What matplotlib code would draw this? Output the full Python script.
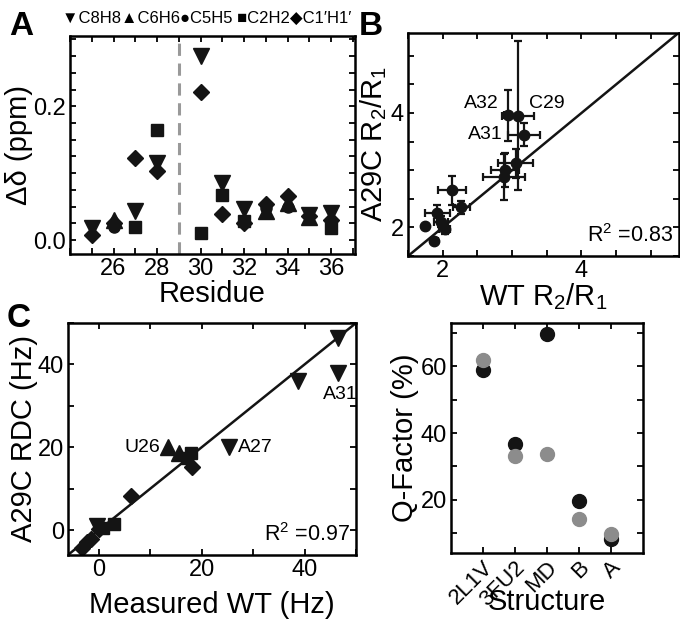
import matplotlib
matplotlib.use("Agg")
import matplotlib.pyplot as plt
from matplotlib.ticker import MultipleLocator

plt.rcParams['font.family'] = ['Liberation Sans', 'DejaVu Sans']
plt.rcParams['mathtext.default'] = 'regular'

# Panel A: chemical shift perturbations per residue
res_c8h8 = [25, 27, 28, 30, 31, 32, 35, 36]
dd_c8h8 = [0.018, 0.044, 0.115, 0.275, 0.085, 0.047, 0.037, 0.041]
res_c6h6 = [26, 33, 34, 35]
dd_c6h6 = [0.03, 0.044, 0.055, 0.034]
res_c5h5 = [26, 33, 34]
dd_c5h5 = [0.02, 0.048, 0.05]
res_c2h2 = [27, 28, 30, 31, 32, 36]
dd_c2h2 = [0.02, 0.164, 0.011, 0.068, 0.028, 0.018]
res_c1h1 = [25, 26, 27, 28, 30, 31, 32, 33, 34, 35, 36]
dd_c1h1 = [0.008, 0.025, 0.123, 0.103, 0.222, 0.039, 0.025, 0.054, 0.066, 0.036, 0.03]
residue_ticks = [26, 28, 30, 32, 34, 36]
mutation_site = 29

# Panel B: R2/R1 ratios
wt_r = [2.94, 3.08, 3.17, 3.05, 2.9, 2.88, 2.13, 2.27, 1.92, 1.97, 2.03, 1.74, 1.88]
mut_r = [3.96, 3.95, 3.62, 3.12, 3.0, 2.88, 2.65, 2.35, 2.25, 2.1, 1.97, 2.02, 1.77]
wt_err = [0.05, 0.23, 0.23, 0.25, 0.2, 0.3, 0.2, 0.12, 0.18, 0.1, 0.08, 0.0, 0.05]
mut_err = [0.45, 1.3, 0.2, 0.25, 0.3, 0.4, 0.25, 0.12, 0.15, 0.1, 0.08, 0.0, 0.05]
labels_b = ["A32", "C29", "A31"]

# Panel C: RDCs
wt_c8h8 = [46.5, 46.5, 38.7, 25.3, -0.3]
mut_c8h8 = [46.5, 38.0, 36.0, 20.0, 1.0]
wt_c6h6 = [13.5, 15.5]
mut_c6h6 = [20.0, 18.5]
wt_c2h2 = [18.0, 17.2, 3.0, 0.8]
mut_c2h2 = [18.7, 17.5, 1.4, 0.5]
wt_c1h1 = [18.2, 6.2, -3.2, -1.5, 0.0, -2.3]
mut_c1h1 = [15.3, 8.2, -4.3, -2.2, 0.2, -3.0]

# Panel D: Q-factors
structures = ["2L1V", "3FU2", "MD", "B", "A"]
q_black = [59.0, 36.6, 69.7, 19.5, 8.3]
q_gray = [62.0, 33.0, 33.8, 14.3, 9.7]

TICK = 17
LABEL = 21
NOTE = 14

fig = plt.figure(figsize=(6.8, 6.2), dpi=100)

def style(ax):
    ax.tick_params(which='both', direction='in', top=True, right=True,
                   length=4.5, width=1.3, labelsize=TICK, pad=3)
    for s in ax.spines.values():
        s.set_linewidth(1.8)

mk = dict(color='#141414', linestyle='none')

# ---- A
axA = fig.add_axes([0.103, 0.590, 0.419, 0.352])
axA.axvline(mutation_site, color='#999999', lw=2.2, dashes=(4, 2.5))
axA.plot(res_c8h8, dd_c8h8, marker='v', ms=11, **mk)
axA.plot(res_c6h6, dd_c6h6, marker='^', ms=11, **mk)
axA.plot(res_c5h5, dd_c5h5, marker='o', ms=8, **mk)
axA.plot(res_c2h2, dd_c2h2, marker='s', ms=9, **mk)
axA.plot(res_c1h1, dd_c1h1, marker='D', ms=8.5, **mk)
axA.set_xlim(24, 37.1)
axA.set_ylim(-0.021, 0.305)
axA.set_xticks(residue_ticks)
axA.xaxis.set_minor_locator(MultipleLocator(1))
axA.yaxis.set_major_locator(MultipleLocator(0.2))
axA.yaxis.set_minor_locator(MultipleLocator(0.025))
style(axA)
axA.set_xlabel("Residue", fontsize=LABEL, labelpad=0)
axA.set_ylabel("\u0394\u03b4 (ppm)", fontsize=LABEL, labelpad=0)
fig.text(0.091, 0.970, "\u25bcC8H8\u25b2C6H6\u25cfC5H5 \u25a0C2H2\u25c6C1\u2032H1\u2032",
         fontsize=12, va='center', ha='left')
fig.text(0.013, 0.943, "A", fontsize=24, fontweight='bold')

# ---- B
axB = fig.add_axes([0.600, 0.587, 0.398, 0.360])
axB.plot([1.5, 5.4], [1.5, 5.4], color='#141414', lw=1.8)
axB.errorbar(wt_r, mut_r, xerr=wt_err, yerr=mut_err, fmt='o', color='#141414',
             ms=7.5, elinewidth=1.6, capsize=3, capthick=1.6)
axB.text(2.8, 4.16, labels_b[0], fontsize=NOTE, ha='right', va='center')
axB.text(3.25, 4.16, labels_b[1], fontsize=NOTE, ha='left', va='center')
axB.text(2.87, 3.62, labels_b[2], fontsize=NOTE, ha='right', va='center')
axB.text(0.98, 0.04, "R$^2$ =0.83", transform=axB.transAxes, fontsize=15.5,
         ha='right', va='bottom')
axB.set_xlim(1.5, 5.4)
axB.set_ylim(1.5, 5.4)
for a in (axB.xaxis, axB.yaxis):
    a.set_major_locator(MultipleLocator(2))
    a.set_minor_locator(MultipleLocator(0.5))
style(axB)
axB.set_xlabel("WT R$_2$/R$_1$", fontsize=LABEL, labelpad=-1)
axB.set_ylabel("A29C R$_2$/R$_1$", fontsize=LABEL, labelpad=1)
fig.text(0.528, 0.943, "B", fontsize=24, fontweight='bold')

# ---- C
axC = fig.add_axes([0.100, 0.105, 0.4235, 0.374])
axC.plot([-6, 50], [-6, 50], color='#141414', lw=1.8)
axC.plot(wt_c8h8, mut_c8h8, marker='v', ms=11, **mk)
axC.plot(wt_c6h6, mut_c6h6, marker='^', ms=11, **mk)
axC.plot(wt_c2h2, mut_c2h2, marker='s', ms=9, **mk)
axC.plot(wt_c1h1, mut_c1h1, marker='D', ms=8.5, **mk)
axC.text(11.9, 19.9, "U26", fontsize=NOTE, ha='right', va='center')
axC.text(27.0, 19.9, "A27", fontsize=NOTE, ha='left', va='center')
axC.text(47.0, 32.8, "A31", fontsize=NOTE, ha='center', va='center')
axC.text(0.98, 0.04, "R$^2$ =0.97", transform=axC.transAxes, fontsize=15.5,
         ha='right', va='bottom')
axC.set_xlim(-6, 50)
axC.set_ylim(-6, 50)
for a in (axC.xaxis, axC.yaxis):
    a.set_major_locator(MultipleLocator(20))
    a.set_minor_locator(MultipleLocator(10))
style(axC)
axC.set_xlabel("Measured WT (Hz)", fontsize=LABEL, labelpad=7)
axC.set_ylabel("A29C RDC (Hz)", fontsize=LABEL, labelpad=0)
fig.text(0.010, 0.472, "C", fontsize=24, fontweight='bold')

# ---- D
axD = fig.add_axes([0.663, 0.108, 0.282, 0.371])
xs = range(1, len(structures) + 1)
axD.plot(xs, q_black, 'o', color='#141414', ms=10)
axD.plot(xs, q_gray, 'o', color='#8c8c8c', ms=10)
axD.set_xlim(0, 6)
axD.set_ylim(4, 73)
axD.set_xticks(list(xs))
axD.set_xticklabels(structures, rotation=45, ha='right', va='top',
                    rotation_mode='anchor')
axD.yaxis.set_major_locator(MultipleLocator(20))
axD.yaxis.set_minor_locator(MultipleLocator(10))
style(axD)
axD.tick_params(axis='x', labelsize=16)
axD.set_xlabel("Structure", fontsize=LABEL, labelpad=-16)
axD.set_ylabel("Q-Factor (%)", fontsize=LABEL, labelpad=1)

fig.savefig("out.png", dpi=100)
